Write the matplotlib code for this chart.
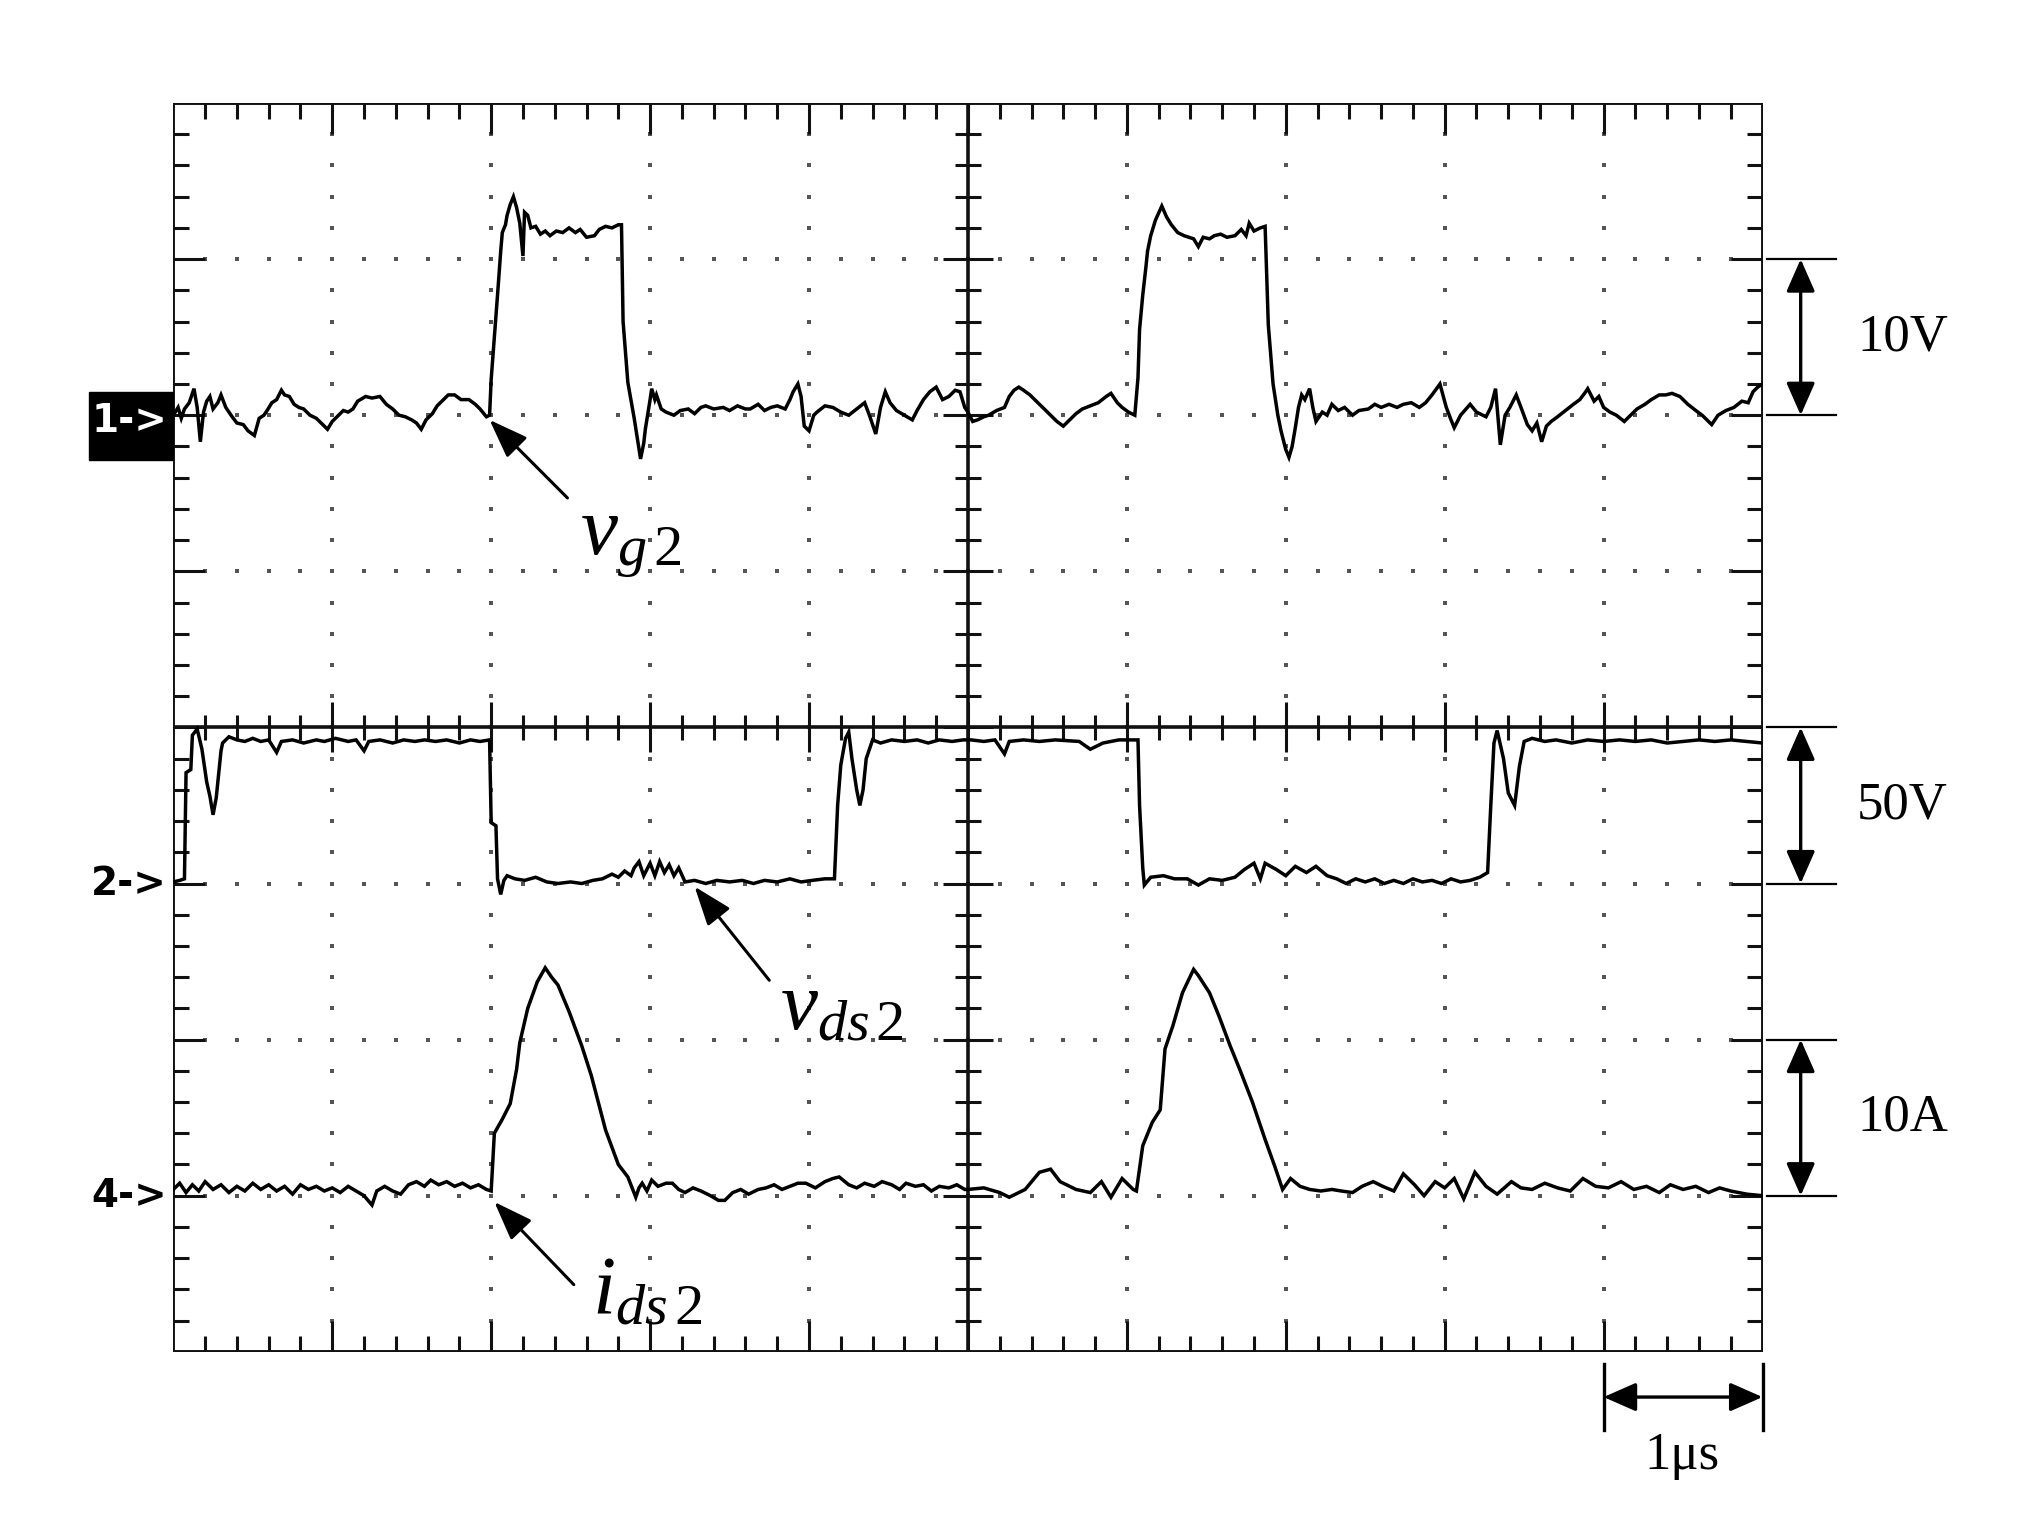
import numpy as np
import matplotlib
matplotlib.use('Agg')
import matplotlib.pyplot as plt
from matplotlib.patches import Rectangle

plt.rcParams['mathtext.fontset'] = 'custom'
plt.rcParams['mathtext.rm'] = 'Liberation Serif'
plt.rcParams['mathtext.it'] = 'Liberation Serif:italic'

# screen units: x in divisions (0..10), y in divisions (-4..4)
# channel 1: gate voltage vg2
vg_x = [0.00, 0.03, 0.05, 0.07, 0.10, 0.13, 0.15, 0.17, 0.19, 0.21, 0.23, 0.25, 0.28, 0.30, 0.33,
        0.37, 0.40, 0.44, 0.47, 0.51, 0.54, 0.57, 0.59, 0.62, 0.65, 0.68, 0.70, 0.73, 0.76, 0.79,
        0.82, 0.86, 0.90, 0.93, 0.97, 1.00, 1.04, 1.07, 1.10, 1.13, 1.16, 1.21, 1.25, 1.30, 1.34,
        1.38, 1.42, 1.46, 1.50, 1.53, 1.56, 1.59, 1.63, 1.66, 1.70, 1.73, 1.77, 1.81, 1.86, 1.90,
        1.93, 1.97, 1.99, 2.00, 2.02, 2.04, 2.06, 2.07, 2.09, 2.10, 2.12, 2.14, 2.16, 2.18, 2.20,
        2.21, 2.23, 2.25, 2.28, 2.31, 2.34, 2.37, 2.41, 2.45, 2.49, 2.53, 2.56, 2.60, 2.65, 2.68,
        2.72, 2.76, 2.80, 2.82, 2.83, 2.86, 2.90, 2.92, 2.94, 2.96, 2.97, 3.00, 3.01, 3.03, 3.04,
        3.07, 3.10, 3.15, 3.19, 3.24, 3.28, 3.32, 3.35, 3.40, 3.46, 3.50, 3.55, 3.60, 3.63, 3.68,
        3.72, 3.76, 3.80, 3.85, 3.88, 3.90, 3.93, 3.95, 3.97, 4.00, 4.03, 4.05, 4.10, 4.15, 4.20,
        4.25, 4.30, 4.35, 4.38, 4.42, 4.45, 4.48, 4.51, 4.55, 4.60, 4.65, 4.68, 4.72, 4.76, 4.80,
        4.84, 4.88, 4.92, 4.95, 4.98,
        5.00, 5.03, 5.06, 5.10, 5.13, 5.18, 5.23, 5.26, 5.29, 5.32, 5.35, 5.39, 5.42, 5.47, 5.52,
        5.56, 5.60, 5.64, 5.68, 5.72, 5.77, 5.82, 5.87, 5.90, 5.94, 5.97, 6.01, 6.05, 6.07, 6.08,
        6.10, 6.12, 6.13, 6.15, 6.18, 6.22, 6.25, 6.28, 6.32, 6.36, 6.39, 6.42, 6.45, 6.48, 6.52,
        6.55, 6.59, 6.63, 6.68, 6.72, 6.75, 6.77, 6.80, 6.84, 6.87, 6.89, 6.92, 6.95, 6.97, 7.00,
        7.02, 7.04, 7.06, 7.08, 7.10, 7.12, 7.15, 7.17, 7.19, 7.23, 7.26, 7.29, 7.33, 7.37, 7.42,
        7.46, 7.52, 7.56, 7.60, 7.65, 7.70, 7.74, 7.79, 7.84, 7.88, 7.92, 7.97, 8.01, 8.04, 8.06,
        8.10, 8.16, 8.20, 8.26, 8.29, 8.32, 8.33, 8.35, 8.38, 8.41, 8.45, 8.48, 8.52, 8.55, 8.58,
        8.61, 8.64, 8.67, 8.71, 8.76, 8.81, 8.85, 8.88, 8.90, 8.94, 8.97, 9.00, 9.04, 9.08, 9.13,
        9.17, 9.21, 9.26, 9.30, 9.35, 9.39, 9.43, 9.48, 9.53, 9.58, 9.62, 9.66, 9.68, 9.72, 9.77,
        9.82, 9.87, 9.91, 9.94, 9.97, 10.00]
vg_y = [2.00, 2.05, 1.98, 2.04, 2.08, 2.17, 2.05, 1.83, 2.02, 2.09, 2.12, 2.04, 2.08, 2.13, 2.05,
        1.99, 1.95, 1.94, 1.90, 1.87, 1.98, 2.00, 2.03, 2.08, 2.10, 2.16, 2.13, 2.12, 2.07, 2.05,
        2.04, 2.00, 1.98, 1.95, 1.91, 1.96, 2.00, 2.03, 2.02, 2.04, 2.09, 2.12, 2.11, 2.12, 2.07,
        2.04, 2.00, 1.99, 1.97, 1.95, 1.91, 1.97, 2.01, 2.06, 2.10, 2.13, 2.13, 2.10, 2.10, 2.07,
        2.04, 1.99, 2.00, 2.23, 2.50, 2.77, 3.05, 3.17, 3.22, 3.28, 3.35, 3.40, 3.33, 3.23, 3.02,
        3.30, 3.28, 3.20, 3.21, 3.16, 3.18, 3.15, 3.18, 3.17, 3.20, 3.17, 3.19, 3.14, 3.15, 3.19,
        3.21, 3.20, 3.22, 3.22, 2.60, 2.21, 1.98, 1.85, 1.72, 1.82, 1.91, 2.10, 2.17, 2.10, 2.13,
        2.04, 2.02, 2.00, 2.03, 2.04, 2.01, 2.05, 2.06, 2.04, 2.05, 2.03, 2.06, 2.04, 2.04, 2.07,
        2.03, 2.05, 2.06, 2.04, 2.10, 2.15, 2.20, 2.12, 1.93, 1.90, 2.00, 2.02, 2.06, 2.05, 2.02,
        2.00, 2.04, 2.08, 2.00, 1.88, 2.05, 2.15, 2.08, 2.03, 2.00, 1.97, 2.03, 2.10, 2.15, 2.18,
        2.10, 2.12, 2.16, 2.15, 2.05,
        2.02, 1.96, 1.97, 1.99, 2.00, 2.03, 2.05, 2.12, 2.16, 2.18, 2.16, 2.13, 2.10, 2.05, 2.00,
        1.96, 1.93, 1.97, 2.01, 2.04, 2.06, 2.08, 2.12, 2.14, 2.08, 2.05, 2.02, 2.00, 2.24, 2.55,
        2.77, 2.95, 3.05, 3.15, 3.25, 3.34, 3.27, 3.22, 3.17, 3.15, 3.14, 3.13, 3.08, 3.14, 3.13,
        3.15, 3.16, 3.14, 3.15, 3.19, 3.15, 3.23, 3.18, 3.20, 3.21, 2.58, 2.20, 2.00, 1.90, 1.78,
        1.73, 1.80, 1.92, 2.05, 2.13, 2.10, 2.17, 2.05, 1.96, 2.02, 2.00, 2.07, 2.03, 2.05, 2.00,
        2.03, 2.04, 2.07, 2.05, 2.07, 2.05, 2.07, 2.08, 2.05, 2.08, 2.13, 2.20, 2.05, 1.97, 1.92,
        2.00, 2.07, 2.02, 1.99, 2.05, 2.17, 2.05, 1.81, 2.00, 2.05, 2.13, 2.05, 1.94, 1.90, 1.95,
        1.83, 1.93, 1.96, 1.99, 2.03, 2.07, 2.10, 2.14, 2.17, 2.09, 2.12, 2.05, 2.02, 2.00, 1.96,
        2.00, 2.04, 2.07, 2.10, 2.13, 2.13, 2.14, 2.12, 2.07, 2.03, 2.00, 1.96, 1.94, 2.00, 2.03,
        2.05, 2.09, 2.08, 2.15, 2.18, 2.20]

# channel 2: drain-source voltage vds2
vds_x = [0.00, 0.04, 0.07, 0.08, 0.11, 0.12, 0.15, 0.18, 0.21, 0.23, 0.25, 0.27, 0.28, 0.30, 0.31,
         0.35, 0.40, 0.45, 0.50, 0.55, 0.60, 0.65, 0.68, 0.75, 0.82, 0.90, 0.95, 1.02, 1.10, 1.15,
         1.20, 1.23, 1.30, 1.38, 1.45, 1.52, 1.58, 1.65, 1.72, 1.80, 1.87, 1.93, 1.99, 2.00, 2.03,
         2.04, 2.06, 2.08, 2.10, 2.15, 2.21, 2.28, 2.35, 2.42, 2.50, 2.57, 2.64, 2.70, 2.76, 2.80,
         2.84, 2.88, 2.90, 2.93, 2.96, 3.00, 3.03, 3.06, 3.09, 3.12, 3.15, 3.18, 3.22, 3.28, 3.35,
         3.42, 3.50, 3.58, 3.65, 3.72, 3.80, 3.88, 3.95, 4.02, 4.10, 4.16, 4.18, 4.20, 4.23, 4.25,
         4.27, 4.30, 4.32, 4.34, 4.36, 4.40, 4.45, 4.52, 4.60, 4.68, 4.75, 4.82, 4.90, 4.97,
         5.02, 5.10, 5.17, 5.23, 5.26, 5.35, 5.45, 5.55, 5.70, 5.77, 5.85, 5.95, 6.07, 6.08, 6.10,
         6.11, 6.15, 6.23, 6.30, 6.38, 6.45, 6.52, 6.60, 6.68, 6.74, 6.80, 6.84, 6.87, 6.94, 7.00,
         7.06, 7.13, 7.19, 7.26, 7.32, 7.38, 7.44, 7.50, 7.56, 7.62, 7.68, 7.74, 7.80, 7.86, 7.92,
         7.98, 8.04, 8.10, 8.16, 8.22, 8.27, 8.29, 8.31, 8.33,
         8.37, 8.40, 8.44, 8.47, 8.50, 8.55, 8.63, 8.70, 8.80, 8.90, 9.00, 9.10, 9.20, 9.30, 9.40,
         9.50, 9.60, 9.70, 9.80, 9.90, 10.00]
vds_y = [-0.99, -0.98, -0.97, -0.29, -0.27, -0.05, -0.01, -0.14, -0.35, -0.44, -0.56, -0.45, -0.35, -0.15, -0.10,
         -0.06, -0.08, -0.09, -0.07, -0.09, -0.08, -0.16, -0.09, -0.08, -0.10, -0.08, -0.09, -0.07, -0.09, -0.08,
         -0.15, -0.09, -0.08, -0.10, -0.08, -0.09, -0.08, -0.09, -0.08, -0.10, -0.08, -0.09, -0.08, -0.61, -0.63,
         -0.97, -1.07, -0.98, -0.95, -0.97, -0.98, -0.96, -0.99, -1.00, -0.99, -1.00, -0.98, -0.97, -0.94, -0.96,
         -0.92, -0.95, -0.90, -0.86, -0.95, -0.87, -0.95, -0.86, -0.93, -0.88, -0.95, -0.90, -0.99, -0.98, -1.00,
         -0.98, -0.99, -0.98, -1.00, -0.98, -0.99, -0.97, -0.99, -0.98, -0.97, -0.97, -0.50, -0.24, -0.07, -0.03,
         -0.20, -0.40, -0.50, -0.40, -0.20, -0.08, -0.10, -0.08, -0.09, -0.08, -0.10, -0.08, -0.09, -0.08,
         -0.08, -0.09, -0.08, -0.17, -0.09, -0.08, -0.09, -0.08, -0.09, -0.14, -0.10, -0.08, -0.08, -0.50, -0.90,
         -1.01, -0.96, -0.95, -0.97, -0.97, -1.01, -0.97, -0.98, -0.96, -0.91, -0.87, -0.97, -0.87, -0.91, -0.95,
         -0.89, -0.93, -0.89, -0.95, -0.97, -1.00, -0.97, -0.99, -0.97, -1.00, -0.98, -1.00, -0.97, -0.99, -0.98,
         -1.00, -0.97, -0.99, -0.98, -0.96, -0.93, -0.50, -0.10, -0.02,
         -0.20, -0.42, -0.50, -0.25, -0.09, -0.07, -0.09, -0.08, -0.10, -0.08, -0.09, -0.08, -0.09, -0.08, -0.10,
         -0.09, -0.08, -0.09, -0.08, -0.09, -0.10]

# channel 4: drain current ids2
ids_x = [0.00, 0.04, 0.08, 0.12, 0.16, 0.20, 0.25, 0.30, 0.35, 0.40, 0.45, 0.50, 0.55, 0.60, 0.65,
         0.70, 0.75, 0.80, 0.85, 0.90, 0.95, 1.00, 1.05, 1.10, 1.15, 1.20, 1.25, 1.28, 1.33, 1.38,
         1.43, 1.48, 1.53, 1.58, 1.62, 1.67, 1.72, 1.77, 1.82, 1.87, 1.92, 1.97, 2.00, 2.02, 2.07,
         2.12, 2.16, 2.18, 2.23, 2.29, 2.34, 2.38, 2.42, 2.49, 2.57, 2.63, 2.72, 2.80, 2.86, 2.91,
         2.93, 2.95, 2.98, 3.01, 3.05, 3.10, 3.14, 3.18, 3.22, 3.27, 3.32, 3.38, 3.43, 3.47, 3.52,
         3.57, 3.62, 3.68, 3.73, 3.78, 3.83, 3.88, 3.93, 3.98, 4.04, 4.10, 4.15, 4.19, 4.25, 4.30,
         4.35, 4.41, 4.46, 4.52, 4.57, 4.61, 4.67, 4.72, 4.77, 4.82, 4.88, 4.93, 4.98,
         5.00, 5.10, 5.20, 5.26, 5.36, 5.45, 5.52, 5.58, 5.68, 5.77, 5.84, 5.90, 5.97, 6.04, 6.06,
         6.10, 6.16, 6.21, 6.24, 6.29, 6.35, 6.42, 6.45, 6.52, 6.58, 6.65, 6.71, 6.79, 6.87, 6.93,
         6.98, 7.03, 7.09, 7.15, 7.22, 7.29, 7.35, 7.42, 7.48, 7.55, 7.61, 7.68, 7.74, 7.81, 7.87,
         7.94, 8.00, 8.06, 8.12, 8.19, 8.26, 8.33, 8.42, 8.48, 8.55, 8.63, 8.71, 8.79, 8.87, 8.95,
         9.03, 9.11, 9.19, 9.27, 9.35, 9.42, 9.50, 9.58, 9.66, 9.73, 9.80, 9.90, 10.00]
ids_y = [-2.96, -2.92, -2.98, -2.93, -2.97, -2.91, -2.96, -2.93, -2.98, -2.94, -2.97, -2.92, -2.96, -2.93, -2.97,
         -2.94, -2.99, -2.93, -2.96, -2.94, -2.97, -2.95, -2.98, -2.94, -2.97, -3.00, -3.06, -2.97, -2.94, -2.97,
         -2.99, -2.93, -2.91, -2.94, -2.90, -2.93, -2.91, -2.94, -2.92, -2.95, -2.93, -2.96, -2.97, -2.60, -2.51,
         -2.41, -2.19, -2.02, -1.80, -1.63, -1.54, -1.60, -1.65, -1.82, -2.04, -2.23, -2.58, -2.80, -2.88, -3.01,
         -2.95, -2.92, -2.97, -2.90, -2.94, -2.92, -2.92, -2.96, -2.98, -2.95, -2.97, -3.00, -3.03, -3.03, -2.98,
         -2.96, -2.99, -2.96, -2.95, -2.93, -2.96, -2.94, -2.92, -2.92, -2.95, -2.91, -2.89, -2.88, -2.93, -2.95,
         -2.92, -2.94, -2.91, -2.93, -2.96, -2.92, -2.94, -2.93, -2.97, -2.94, -2.95, -2.93, -2.96,
         -2.96, -2.95, -2.98, -3.01, -2.96, -2.85, -2.83, -2.91, -2.96, -2.98, -2.91, -3.01, -2.89, -2.96, -2.97,
         -2.68, -2.53, -2.45, -2.06, -1.91, -1.70, -1.55, -1.59, -1.70, -1.85, -2.04, -2.19, -2.40, -2.64, -2.81,
         -2.96, -2.89, -2.94, -2.96, -2.97, -2.96, -2.97, -2.98, -2.94, -2.91, -2.94, -2.97, -2.86, -2.93, -3.00,
         -2.91, -2.95, -2.89, -3.02, -2.85, -2.94, -2.99, -2.91, -2.95, -2.96, -2.92, -2.95, -2.97, -2.89, -2.94,
         -2.95, -2.91, -2.96, -2.94, -2.98, -2.93, -2.96, -2.94, -2.98, -2.95, -2.97, -2.99, -3.00]

# channel reference levels and scale markers
ch_names = ['1->', '2->', '4->']
ch_levels = [1.96, -1.0, -3.0]
scale_labels = ['10V', '50V', '10A']
scale_spans = [(2, 3), (-1, 0), (-3, -2)]
time_label = '1\u03bcs'

fig = plt.figure(figsize=(20.44, 15.24), dpi=100)
ax = fig.add_axes([0.0848, 0.1130, 0.7775, 0.8194])
ax.set_xlim(0, 10)
ax.set_ylim(-4, 4)
ax.axis('off')

# graticule
ax.add_patch(Rectangle((0, -4), 10, 8, fill=False, lw=2.8, ec='#111111', zorder=3))
ax.axvline(5, color='#111111', lw=2.6, zorder=3)
ax.axhline(0, color='#111111', lw=2.6, zorder=3)

xt = np.round(np.arange(0.2, 10.0, 0.2), 2)
yt = np.round(np.arange(-3.8, 4.0, 0.2), 2)
lx = np.where(np.isclose(xt, np.round(xt)), 0.2, 0.1)
ly = np.where(np.isclose(yt, np.round(yt)), 0.2, 0.1)
tk = dict(color='#111111', lw=2.2, zorder=3)
ax.vlines(xt, 4 - lx, 4, **tk)
ax.vlines(xt, -4, -4 + lx, **tk)
ax.hlines(yt, 0, ly, **tk)
ax.hlines(yt, 10 - ly, 10, **tk)
ax.vlines(xt, -0.8 * lx, 0.8 * lx, **tk)
ax.hlines(yt, 5 - 0.8 * ly, 5 + 0.8 * ly, **tk)

dots_x, dots_y = [], []
for g in [1, 2, 3, 4, 6, 7, 8, 9]:
    dots_x += [g] * len(yt)
    dots_y += list(yt)
for g in [-3, -2, -1, 1, 2, 3]:
    dots_x += list(xt)
    dots_y += [g] * len(xt)
ax.scatter(dots_x, dots_y, s=8, marker='s', color='#555555', lw=0, zorder=2)

# traces
for tx, ty in [(vg_x, vg_y), (vds_x, vds_y), (ids_x, ids_y)]:
    ax.plot(tx, ty, color='black', lw=2.5, solid_joinstyle='miter', zorder=4)

# channel markers
ax.add_patch(Rectangle((-0.53, 1.71), 0.53, 0.44, color='black', clip_on=False, zorder=5))
for name, lev, col in zip(ch_names, ch_levels, ['white', 'black', 'black']):
    ax.text(-0.04, lev, name, color=col, fontsize=28, fontweight='bold', ha='right', va='center',
            clip_on=False, zorder=6)

# signal labels with arrows
arrow = dict(arrowstyle='-|>,head_length=0.6,head_width=0.22', color='black', lw=2.2,
             mutation_scale=40, shrinkA=0, shrinkB=0)
ax.annotate('', xy=(1.99, 1.97), xytext=(2.48, 1.47), arrowprops=arrow)
ax.annotate('', xy=(3.28, -1.02), xytext=(3.75, -1.62), arrowprops=arrow)
ax.annotate('', xy=(2.02, -3.04), xytext=(2.52, -3.57), arrowprops=arrow)
lab = dict(fontsize=60, ha='center', va='center')
ax.text(2.88, 1.21, r'$v_{g\,2}$', **lab)
ax.text(4.21, -1.78, r'$v_{ds\,2}$', **lab)
ax.text(2.98, -3.60, r'$i_{ds\,2}$', **lab)

# vertical scale markers at right
darrow = dict(arrowstyle='<|-|>,head_length=0.5,head_width=0.22', color='black', lw=2.4,
              mutation_scale=40, shrinkA=0, shrinkB=0)
for (lo, hi), txt in zip(scale_spans, scale_labels):
    ax.plot([10.03, 10.46], [hi, hi], color='black', lw=1.6, clip_on=False)
    ax.plot([10.03, 10.46], [lo, lo], color='black', lw=1.6, clip_on=False)
    ax.annotate('', xy=(10.24, hi), xytext=(10.24, lo), arrowprops=darrow, annotation_clip=False)
    ax.text(10.88, (lo + hi) / 2, txt, fontsize=38, family='Liberation Serif', ha='center',
            va='center', clip_on=False)

# time scale marker
ax.plot([9, 9], [-4.08, -4.5], color='black', lw=2.4, clip_on=False)
ax.plot([10, 10], [-4.08, -4.5], color='black', lw=2.4, clip_on=False)
ax.annotate('', xy=(10, -4.29), xytext=(9, -4.29), arrowprops=darrow, annotation_clip=False)
ax.text(9.49, -4.67, time_label, fontsize=38, family='Liberation Serif', ha='center', va='center',
        clip_on=False)

fig.savefig('out.png', dpi=100, facecolor='white')
